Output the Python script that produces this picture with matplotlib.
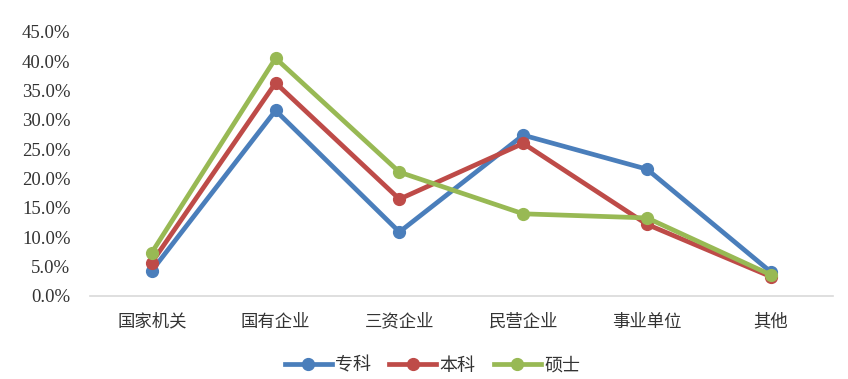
import matplotlib
matplotlib.use("Agg")
import matplotlib.pyplot as plt
from matplotlib.ticker import FuncFormatter

categories = ["国家机关", "国有企业", "三资企业", "民营企业", "事业单位", "其他"]
zhuanke = [4.3, 31.6, 10.9, 27.4, 21.6, 4.1]
benke = [5.7, 36.3, 16.5, 26.0, 12.2, 3.3]
shuoshi = [7.4, 40.5, 21.1, 14.0, 13.3, 3.6]
series_names = ["专科", "本科", "硕士"]
colors = ["#4A7EBB", "#BE4B48", "#98B954"]

cjk = ["Noto Sans CJK SC", "DejaVu Sans"]

fig = plt.figure(figsize=(8.48, 3.79), dpi=100)
ax = fig.add_axes([0.106, 0.219, 0.876, 0.697])

x = list(range(len(categories)))
for vals, name, c in zip([zhuanke, benke, shuoshi], series_names, colors):
    ax.plot(x, vals, color=c, lw=3.4, marker="o", markersize=8.5, label=name,
            solid_joinstyle="round")

ax.set_xlim(-0.5, len(categories) - 0.5)
ax.set_ylim(0, 45)
ax.set_yticks([i * 5 for i in range(10)])
ax.yaxis.set_major_formatter(FuncFormatter(lambda v, p: f"{v:.1f}%"))
for lab in ax.get_yticklabels():
    lab.set_family("Liberation Serif")
    lab.set_fontsize(13.5)
    lab.set_color("#333333")
ax.set_xticks(x)
ax.set_xticklabels(categories, family=cjk, fontsize=12.5, color="#333333")

for s in ["top", "right", "left"]:
    ax.spines[s].set_visible(False)
ax.spines["bottom"].set_color("#D9D9D9")
ax.spines["bottom"].set_linewidth(1.2)
ax.tick_params(axis="both", length=0)
ax.tick_params(axis="y", pad=14)
ax.tick_params(axis="x", pad=12)

leg = fig.legend(loc="center", bbox_to_anchor=(0.51, 0.035), ncol=3, frameon=False,
                 prop={"family": cjk, "size": 13}, handlelength=2.6,
                 columnspacing=1.0, handletextpad=0.2)
for t in leg.get_texts():
    t.set_color("#333333")

fig.savefig("out.png", dpi=100)
